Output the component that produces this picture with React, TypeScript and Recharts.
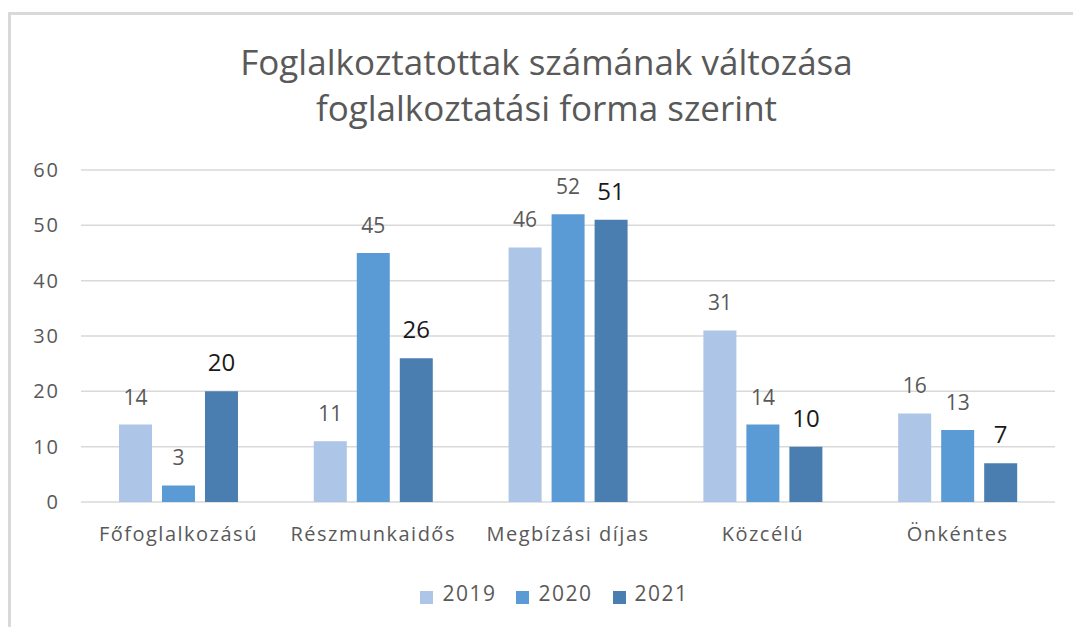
import React from "react";
import { BarChart, Bar, XAxis, YAxis, CartesianGrid, Legend, LabelList } from "recharts";

const categories = ["Főfoglalkozású", "Részmunkaidős", "Megbízási díjas", "Közcélú", "Önkéntes"];
const values2019 = [14, 11, 46, 31, 16];
const values2020 = [3, 45, 52, 14, 13];
const values2021 = [20, 26, 51, 10, 7];
const yTicks = [0, 10, 20, 30, 40, 50, 60];
const titleLines = ["Foglalkoztatottak számának változása", "foglalkoztatási forma szerint"];

const data = categories.map((c, i) => ({
  name: c,
  y2019: values2019[i],
  y2020: values2020[i],
  y2021: values2021[i],
}));

const FONT = "'Open Sans', sans-serif";
const GRAY = "#595959";

export default function App() {
  return (
    <div style={{ position: "absolute", left: 0, top: 0, width: 1073, height: 627, background: "#fff", overflow: "hidden" }}>
      <div style={{ position: "absolute", left: 8, top: 12, width: 1065, height: 615, borderTop: "3px solid #D9D9D9", borderLeft: "3px solid #D9D9D9" }} />
      <div style={{ position: "absolute", left: 10, top: 39, width: 1073, textAlign: "center", fontFamily: FONT, fontSize: 35, color: GRAY, lineHeight: "46px" }}>
        {titleLines.map((t) => (
          <div key={t}>{t}</div>
        ))}
      </div>
      <div style={{ position: "absolute", left: 0, top: 0 }}>
        <BarChart
          width={1073}
          height={627}
          data={data}
          margin={{ top: 170, right: 18, left: 0, bottom: 3 }}
          barCategoryGap="19.5%"
          barGap={10}
        >
          <CartesianGrid vertical={false} stroke="#D9D9D9" strokeWidth={1.5} />
          <XAxis
            dataKey="name"
            axisLine={false}
            tickLine={false}
            tickSize={0}
            tickMargin={25}
            height={77}
            tick={{ fill: GRAY, fontSize: 20, fontFamily: FONT, letterSpacing: 1.5 }}
          />
          <YAxis
            width={81}
            domain={[0, 60]}
            ticks={yTicks}
            axisLine={false}
            tickLine={false}
            tickSize={0}
            tickMargin={21}
            tick={{ fill: GRAY, fontSize: 20, fontFamily: FONT, letterSpacing: 2 }}
          />
          <Legend
            verticalAlign="bottom"
            height={45}
            iconType="square"
            iconSize={13}
            wrapperStyle={{ left: 37 }}
            formatter={(v) => (
              <span style={{ color: GRAY, fontSize: 21, fontFamily: FONT, letterSpacing: 1.5, marginLeft: 5, marginRight: 10 }}>{v}</span>
            )}
          />
          <Bar dataKey="y2019" name="2019" fill="#ADC5E6" isAnimationActive={false}>
            <LabelList dataKey="y2019" position="top" offset={20} fill={GRAY} fontSize={21} fontFamily={FONT} />
          </Bar>
          <Bar dataKey="y2020" name="2020" fill="#5B9BD5" isAnimationActive={false}>
            <LabelList dataKey="y2020" position="top" offset={20} fill={GRAY} fontSize={21} fontFamily={FONT} />
          </Bar>
          <Bar dataKey="y2021" name="2021" fill="#4A7EB0" isAnimationActive={false}>
            <LabelList dataKey="y2021" position="top" offset={20} fill="#1a1a1a" fontSize={24} fontFamily={FONT} />
          </Bar>
        </BarChart>
      </div>
    </div>
  );
}
